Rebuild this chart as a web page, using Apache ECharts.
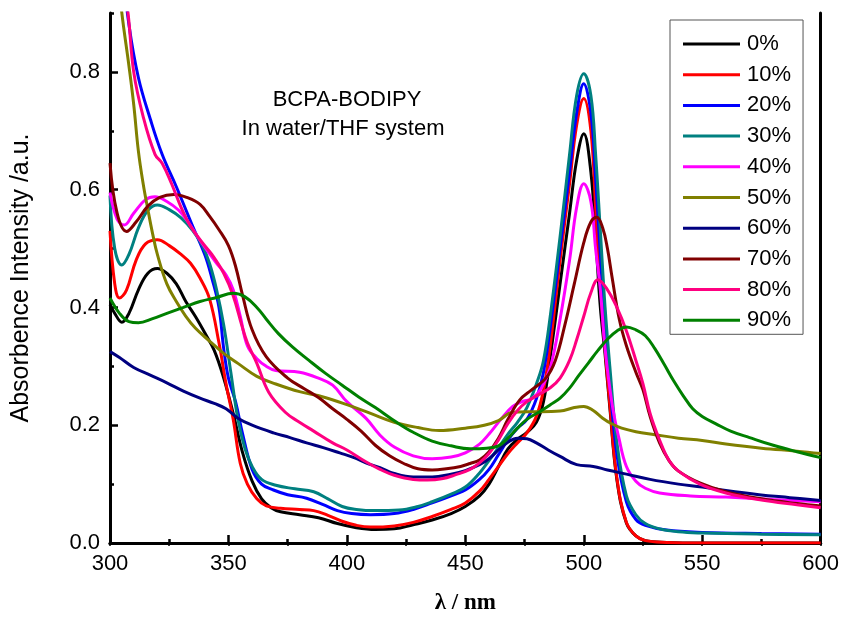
<!DOCTYPE html>
<html>
<head>
<meta charset="utf-8">
<script src="https://cdn.jsdelivr.net/npm/echarts@6/dist/echarts.min.js"></script>
<style>html,body{margin:0;padding:0;background:#fff}#c{width:842px;height:621px}</style>
</head>
<body>
<div id="c"></div>
<script>
// ---- data (wavelength in nm, absorbance in a.u.) ----
const seriesNames = ['0%','10%','20%','30%','40%','50%','60%','70%','80%','90%'];
const seriesColors = ['#000000','#FF0000','#0000FF','#008080','#FF00FF','#808000','#000080','#800000','#FF0080','#008000'];
const xTicks = [300,350,400,450,500,550,600];
const yTicks = [0.0,0.2,0.4,0.6,0.8];

const wl0 = [300,302,305,308,312,316,320,324,328,332,336,340,344,348,352,356,360,364,368,372,380,388,396,404,412,420,428,436,444,450,456,460,464,468,472,476,480,483,486,490,494,497,500,503,505,507,509,511,514,518,522,526,535,550,600];
const abs0 = [0.405,0.39,0.375,0.39,0.43,0.458,0.466,0.458,0.44,0.41,0.385,0.357,0.327,0.28,0.22,0.153,0.105,0.075,0.06,0.053,0.048,0.043,0.033,0.026,0.023,0.024,0.031,0.039,0.05,0.062,0.08,0.1,0.13,0.16,0.176,0.188,0.205,0.24,0.32,0.44,0.56,0.65,0.695,0.63,0.52,0.40,0.32,0.23,0.107,0.034,0.012,0.004,0.001,0,0];

const wl10 = [300,302,304,307,311,315,320,325,330,334,338,342,346,349,352,355,358,362,366,372,380,386,392,398,404,410,420,428,436,444,450,456,460,464,468,472,476,480,483,486,490,494,497,500,503,505,507,509,511,514,518,522,526,535,550,600];
const abs10 = [0.53,0.44,0.416,0.43,0.48,0.508,0.515,0.505,0.49,0.475,0.45,0.415,0.34,0.27,0.21,0.135,0.1,0.075,0.063,0.059,0.057,0.055,0.047,0.037,0.03,0.027,0.029,0.035,0.045,0.057,0.068,0.088,0.108,0.13,0.152,0.17,0.187,0.215,0.26,0.34,0.48,0.61,0.71,0.755,0.70,0.57,0.44,0.33,0.235,0.11,0.035,0.012,0.004,0.001,0,0];

const wl20 = [300,304,308,312,317,322,328,335,340,343,346,348,350,353,356,360,364,369,375,383,390,396,402,410,420,428,436,444,450,456,460,464,468,472,476,480,483,486,490,494,497,500,503,505,507,509,511,514,518,522,526,535,550,575,600];
const abs20 = [1.15,1.02,0.88,0.79,0.72,0.66,0.605,0.537,0.49,0.45,0.40,0.33,0.28,0.24,0.185,0.125,0.1,0.09,0.082,0.076,0.065,0.055,0.05,0.048,0.05,0.057,0.068,0.08,0.09,0.108,0.125,0.15,0.175,0.195,0.21,0.245,0.29,0.37,0.5,0.63,0.73,0.78,0.73,0.62,0.49,0.37,0.27,0.15,0.07,0.04,0.03,0.022,0.018,0.016,0.015];

const wl30 = [300,302,305,308,312,316,320,325,330,335,339,342,345,348,351,354,357,360,364,370,378,386,392,398,404,412,422,430,436,444,450,456,460,464,468,472,476,480,483,486,490,494,497,500,503,505,507,509,511,514,518,522,526,532,540,550,575,600];
const abs30 = [0.59,0.5,0.472,0.49,0.535,0.565,0.574,0.566,0.552,0.53,0.505,0.475,0.43,0.37,0.29,0.21,0.16,0.13,0.108,0.098,0.092,0.087,0.075,0.062,0.057,0.055,0.056,0.062,0.07,0.083,0.095,0.119,0.14,0.162,0.185,0.205,0.23,0.27,0.31,0.39,0.52,0.66,0.76,0.797,0.76,0.66,0.53,0.40,0.30,0.17,0.08,0.048,0.033,0.024,0.019,0.017,0.015,0.014];

const wl40 = [300,303,306,310,315,319,324,329,333,337,341,345,349,352,355,358,362,366,370,380,388,394,400,408,414,420,428,436,444,450,456,460,465,470,474,478,482,486,490,494,497,500,503,505,507,509,512,515,518,522,526,532,545,560,580,600];
const abs40 = [0.595,0.55,0.54,0.56,0.583,0.588,0.58,0.565,0.545,0.52,0.497,0.475,0.455,0.43,0.385,0.335,0.313,0.3,0.293,0.29,0.28,0.268,0.24,0.212,0.183,0.163,0.148,0.143,0.146,0.153,0.168,0.185,0.21,0.232,0.24,0.245,0.262,0.3,0.38,0.48,0.57,0.61,0.58,0.5,0.43,0.33,0.235,0.175,0.13,0.105,0.093,0.085,0.08,0.078,0.074,0.07];

const wl50 = [300,303,305,308,310,312,314,316,318,320,324,328,332,336,342,348,354,362,370,380,390,400,410,420,430,439,450,458,464,470,476,482,490,496,500,504,508,512,516,522,530,540,550,560,575,590,600];
const abs50 = [1.15,0.98,0.9,0.81,0.745,0.665,0.61,0.566,0.525,0.49,0.44,0.41,0.385,0.365,0.343,0.322,0.305,0.283,0.27,0.257,0.248,0.235,0.22,0.205,0.196,0.191,0.195,0.2,0.208,0.222,0.223,0.223,0.224,0.23,0.232,0.225,0.212,0.202,0.195,0.189,0.184,0.178,0.174,0.168,0.161,0.156,0.152];

const wl60 = [300,304,310,317,324,331,338,344,349,354,360,369,376,383,390,397,403,408,414,420,428,436,444,450,456,460,464,468,472,476,480,485,490,497,504,510,518,528,540,550,560,574,587,600];
const abs60 = [0.325,0.315,0.298,0.285,0.272,0.258,0.246,0.237,0.228,0.212,0.2,0.187,0.179,0.17,0.162,0.153,0.145,0.136,0.128,0.118,0.112,0.112,0.117,0.123,0.133,0.143,0.158,0.171,0.178,0.177,0.17,0.158,0.147,0.133,0.13,0.124,0.117,0.108,0.1,0.095,0.089,0.082,0.077,0.072];

const wl70 = [300,303,307,311,316,321,327,333,338,342,346,350,353,356,360,366,375,382,388,394,400,406,412,418,424,430,436,442,448,452,456,460,464,468,473,478,484,488,492,496,500,503,505.5,508,510,512,515,518,522,525,528,532,536,540,549,560,575,590,600];
const abs70 = [0.645,0.56,0.529,0.545,0.572,0.587,0.592,0.586,0.575,0.555,0.532,0.505,0.47,0.42,0.362,0.316,0.28,0.262,0.247,0.228,0.21,0.19,0.166,0.148,0.135,0.126,0.124,0.126,0.13,0.135,0.141,0.155,0.178,0.21,0.243,0.26,0.28,0.31,0.37,0.44,0.51,0.545,0.553,0.535,0.5,0.45,0.38,0.335,0.29,0.26,0.215,0.17,0.14,0.122,0.102,0.087,0.075,0.067,0.063];

const wl80 = [300,304,307.6,310,314,319,322,326,330,334,339,343,348,352,355.6,358,362,367,374,380,386,394,400,408,414,420,428,434,440,446,452,456,460,464,468,472,476,481,486,490,494,497,500,503,506,510,514,518,522,525,528,532,536,540,549,560,575,590,600];
const abs80 = [1.2,1.0,0.9,0.8,0.724,0.66,0.645,0.61,0.57,0.538,0.51,0.49,0.458,0.42,0.37,0.34,0.305,0.256,0.222,0.205,0.19,0.17,0.158,0.138,0.125,0.115,0.108,0.107,0.109,0.116,0.125,0.136,0.152,0.175,0.203,0.225,0.24,0.252,0.264,0.28,0.31,0.345,0.385,0.425,0.447,0.43,0.40,0.36,0.31,0.27,0.22,0.175,0.14,0.122,0.1,0.085,0.073,0.065,0.06];

const wl90 = [300,304,308,312,318,324,331,338,345,352,357,362,366,371,377,384,391,398,405,412,421,428,436,444,452,459,464,468,472,476,481,486,490,494,498,502,506,510,514,518,522,526,530,534,538,542,546,550,556,562,570,580,590,600];
const abs90 = [0.416,0.39,0.376,0.374,0.381,0.39,0.4,0.41,0.417,0.424,0.418,0.4,0.38,0.356,0.333,0.31,0.288,0.268,0.248,0.23,0.205,0.188,0.173,0.165,0.16,0.161,0.165,0.178,0.195,0.21,0.222,0.235,0.246,0.263,0.285,0.306,0.327,0.346,0.36,0.367,0.362,0.352,0.33,0.303,0.275,0.25,0.228,0.215,0.202,0.19,0.179,0.166,0.155,0.145];

const wavelengths = [wl0,wl10,wl20,wl30,wl40,wl50,wl60,wl70,wl80,wl90];
const absorbances = [abs0,abs10,abs20,abs30,abs40,abs50,abs60,abs70,abs80,abs90];

// ---- chart ----
const SANS = '"Liberation Sans", Arial, sans-serif';
const chart = echarts.init(document.getElementById('c'), null, {renderer: 'canvas'});

const series = seriesNames.map((name, i) => ({
  name: name,
  type: 'line',
  xAxisIndex: 0,
  yAxisIndex: 0,
  symbol: 'none',
  smooth: 0.4,
  clip: true,
  lineStyle: {color: seriesColors[i], width: 3},
  itemStyle: {color: seriesColors[i]},
  data: wavelengths[i].map((w, k) => [w, absorbances[i][k]])
}));

const option = {
  backgroundColor: '#fff',
  animation: false,
  grid: {left: 110, right: 21, top: 13, bottom: 78},
  legend: {
    orient: 'vertical', left: 670, top: 20,
    icon: 'rect',
    itemWidth: 57, itemHeight: 3, itemGap: 8.7,
    padding: [13, 12, 3, 13],
    borderColor: '#555', borderWidth: 1, backgroundColor: '#fff',
    textStyle: {fontSize: 22, lineHeight: 22, color: '#000', fontFamily: SANS, padding: [0, 0, 0, 2]},
    data: seriesNames
  },
  graphic: [
    {type: 'text', x: 347, y: 89, style: {text: 'BCPA-BODIPY', font: '22px ' + SANS, fill: '#000', textAlign: 'center'}},
    {type: 'text', x: 343, y: 118, style: {text: 'In water/THF system', font: '22px ' + SANS, fill: '#000', textAlign: 'center'}}
  ],
  xAxis: [{
    type: 'value', min: 300, max: 600, interval: 50,
    axisLine: {show: true, lineStyle: {color: '#000', width: 3}},
    axisTick: {show: true, inside: true, length: 8, lineStyle: {color: '#000', width: 2.5}},
    minorTick: {show: true, splitNumber: 2, length: 4, lineStyle: {color: '#000', width: 2.5}},
    axisLabel: {fontSize: 22, color: '#000', margin: 10, fontFamily: SANS,
      formatter: v => xTicks.includes(v) ? String(v) : ''},
    splitLine: {show: false}, minorSplitLine: {show: false},
    name: 'λ / nm', nameLocation: 'middle', nameGap: 49,
    nameTextStyle: {fontFamily: '"Liberation Serif", "Times New Roman", serif', fontWeight: 'bold', fontSize: 23, color: '#000'}
  }, {
    type: 'value', position: 'top', min: 300, max: 600, interval: 25,
    axisLine: {show: true, lineStyle: {color: '#000', width: 3}},
    axisTick: {show: true, inside: true, length: 3, lineStyle: {color: '#000', width: 1.5}},
    axisLabel: {show: false}, splitLine: {show: false}
  }],
  yAxis: [{
    type: 'value', min: 0, max: 0.9, interval: 0.2, position: 'left',
    axisLine: {show: true, lineStyle: {color: '#000', width: 3}},
    axisTick: {show: true, inside: true, length: 8, lineStyle: {color: '#000', width: 2.5}},
    axisLabel: {fontSize: 22, color: '#000', margin: 10, fontFamily: SANS, showMaxLabel: false,
      formatter: v => yTicks.some(t => Math.abs(t - v) < 1e-9) ? v.toFixed(1) : ''},
    splitLine: {show: false},
    name: 'Absorbence Intensity /a.u.', nameLocation: 'middle', nameGap: 76,
    nameTextStyle: {fontFamily: SANS, fontSize: 25, color: '#000'}
  }, {
    type: 'value', min: 0, max: 0.9, interval: 0.1, position: 'left',
    axisLine: {show: false},
    axisTick: {show: true, inside: true, length: 4, lineStyle: {color: '#000', width: 2.5}},
    axisLabel: {show: false}, splitLine: {show: false}
  }, {
    type: 'value', min: 0, max: 0.9, position: 'right',
    axisLine: {show: true, lineStyle: {color: '#000', width: 3}},
    axisTick: {show: false}, axisLabel: {show: false}, splitLine: {show: false}
  }],
  series: series
};
chart.setOption(option);
</script>
</body>
</html>
